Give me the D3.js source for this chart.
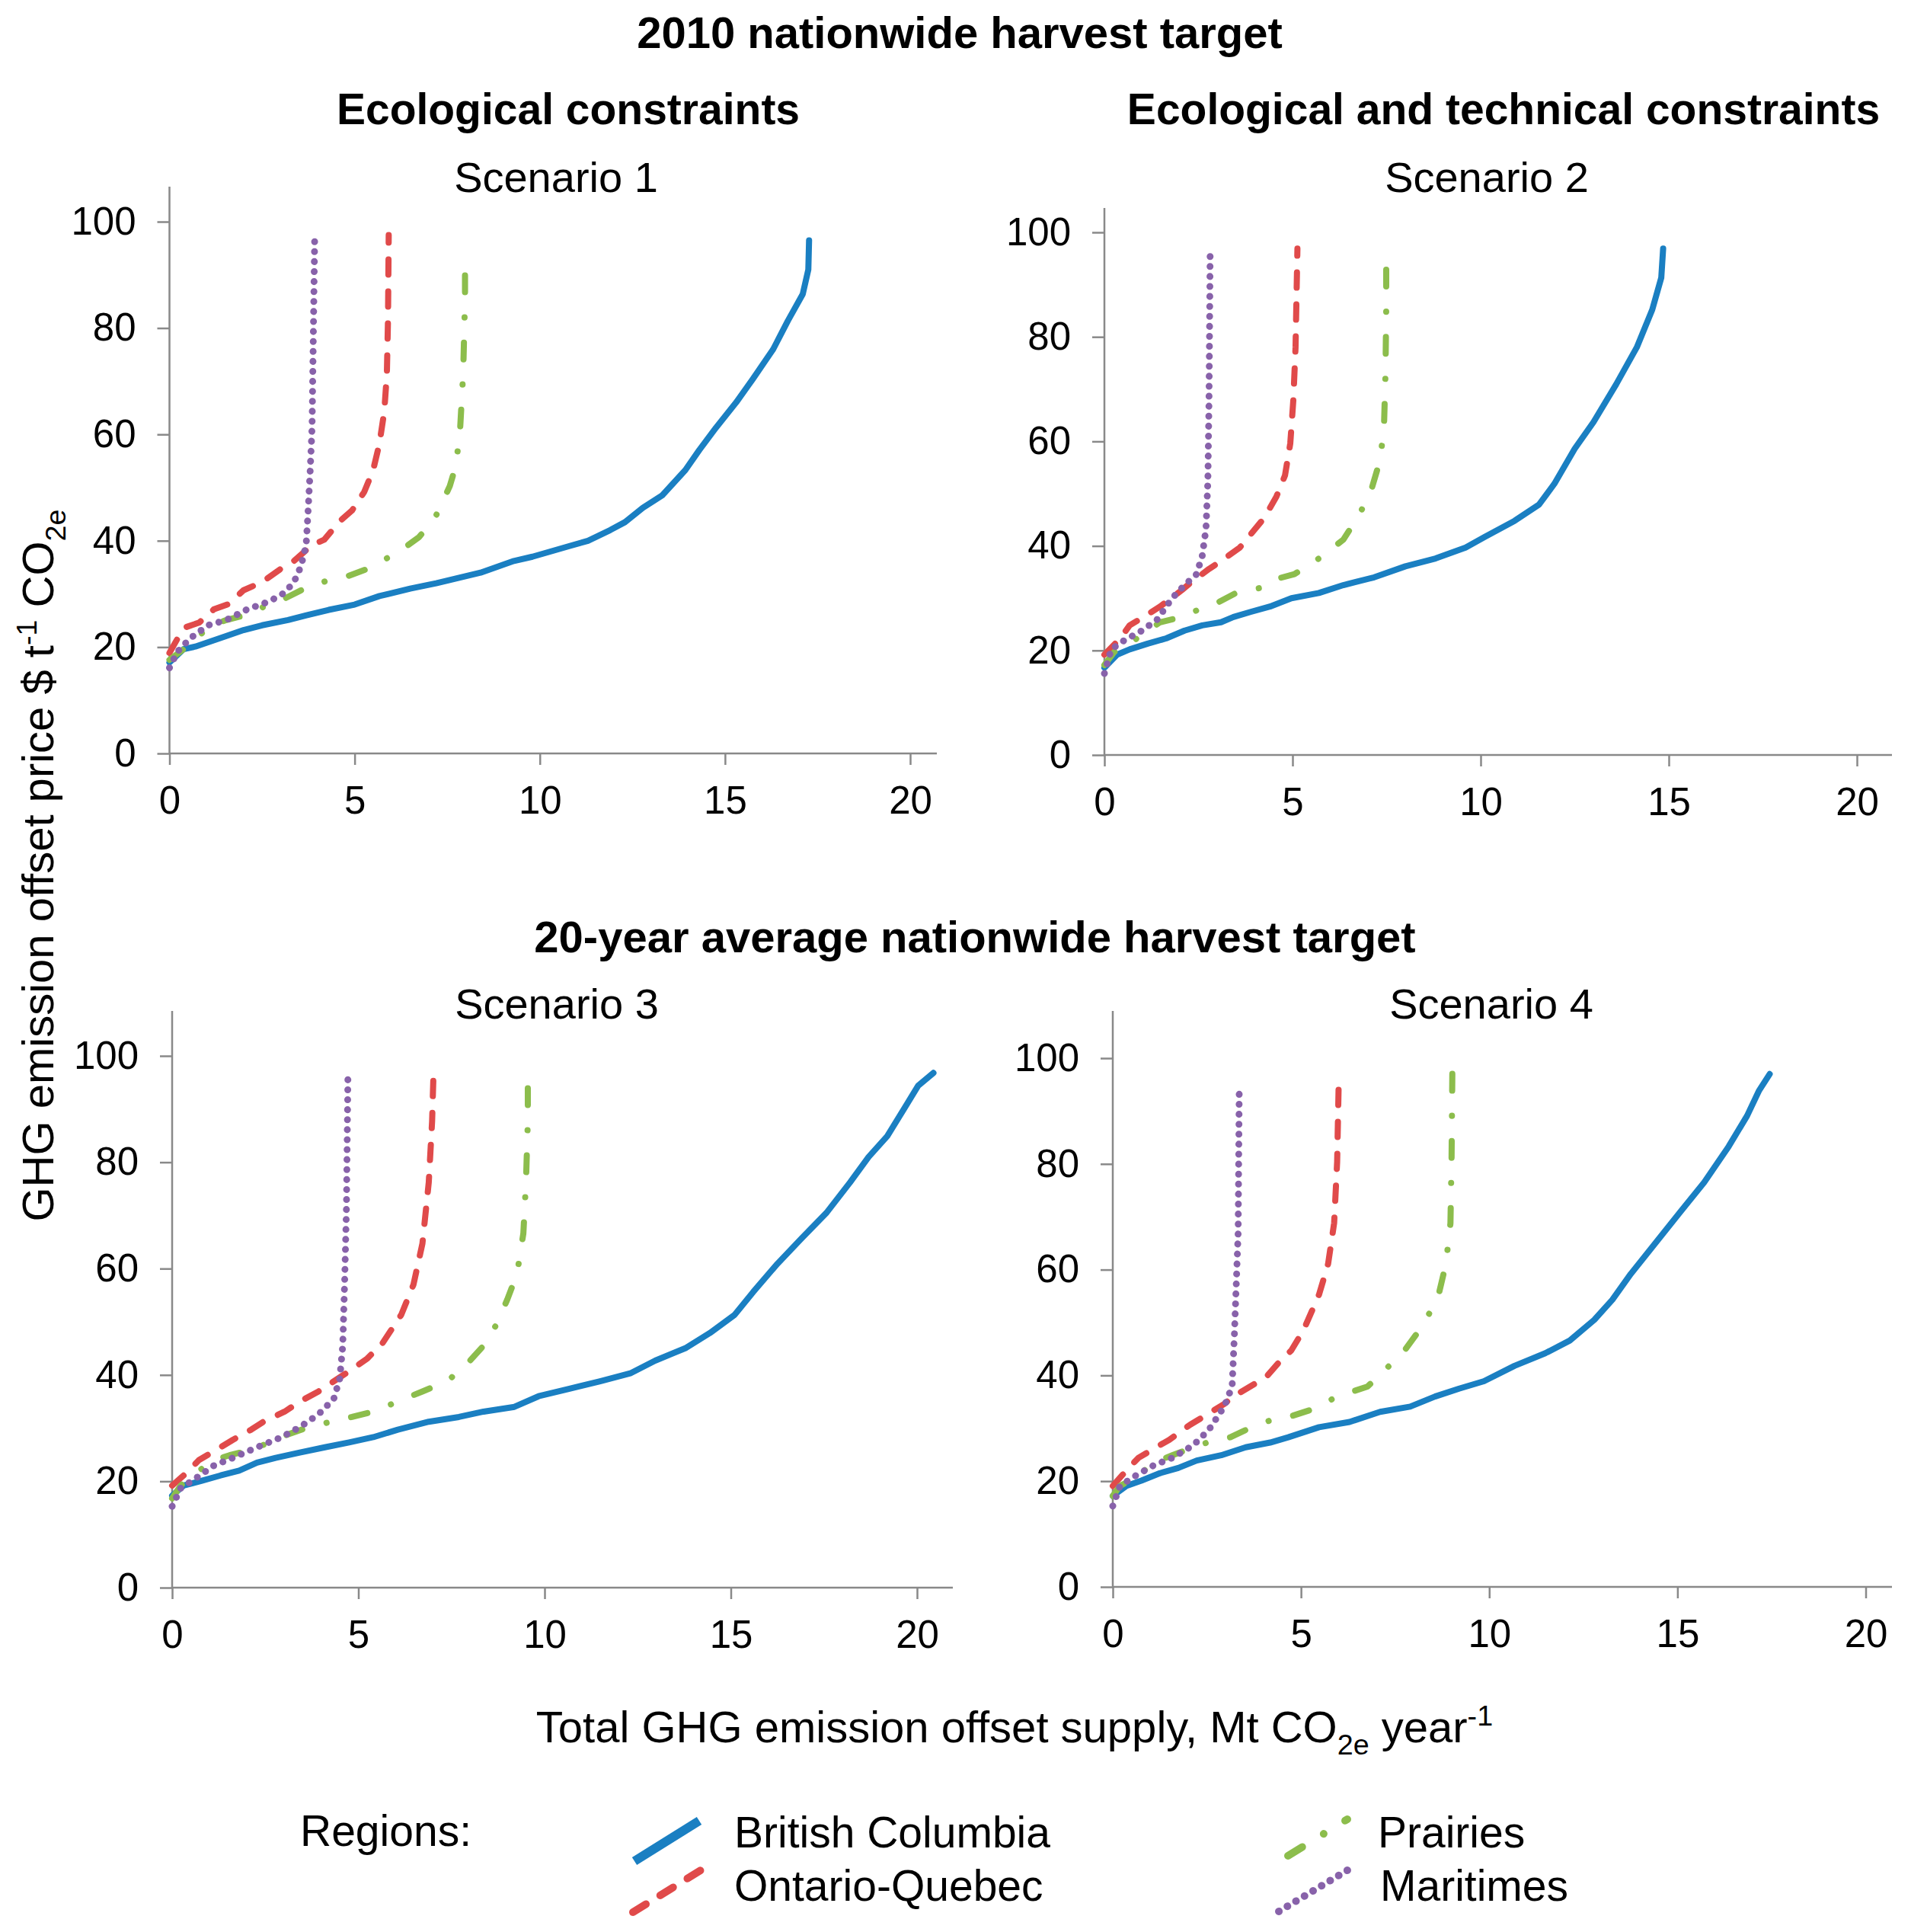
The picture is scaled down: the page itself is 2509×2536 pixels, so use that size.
<!DOCTYPE html>
<html>
<head>
<meta charset="utf-8">
<script src="https://cdn.jsdelivr.net/npm/d3@7"></script>
<style>
  body { margin: 0; background: #fff; }
  text { font-family: 'Liberation Sans', Arial, sans-serif; fill: #000; }
</style>
</head>
<body>
<div id="chart"></div>
<script>
// ---- data ----
const regions = ['British Columbia', 'Ontario-Quebec', 'Prairies', 'Maritimes'];
const scenarios = ['Scenario 1', 'Scenario 2', 'Scenario 3', 'Scenario 4'];
const xTicks = [0, 5, 10, 15, 20];
const yTicks = [0, 20, 40, 60, 80, 100];

// [supply Mt CO2e/yr, price $/t]
const s1BritishColumbia = [[0,17.1],[0.38,19.6],[0.7,20.1],[1.12,21.1],[1.54,22.1],[2.0,23.2],[2.5,24.1],[3.2,25.1],[3.7,26],[4.3,27],[5.0,28],[5.67,29.6],[6.5,31],[7.2,32],[7.8,33],[8.4,34],[9.3,36.2],[9.8,37],[10.3,38],[10.8,39],[11.3,40],[11.9,42],[12.3,43.5],[12.78,46.2],[13.3,48.5],[13.93,53.3],[14.3,57],[14.76,61.3],[15.3,66],[15.75,70.4],[16.3,76],[16.7,81.4],[17.1,86.4],[17.25,91],[17.27,96.5]];
const s1OntarioQuebec = [[0,18.9],[0.38,23.6],[0.8,24.6],[1.2,27.1],[1.6,28.1],[2.0,30.7],[2.5,32.2],[3.0,34.7],[3.36,36.2],[3.85,39.2],[4.18,40.2],[4.6,43.7],[4.93,45.7],[5.26,49.2],[5.5,53.3],[5.67,58.3],[5.8,64.3],[5.87,71.4],[5.9,81.4],[5.92,97.5]];
const s1Prairies = [[0,17.6],[0.38,19.6],[1.12,24.1],[1.54,25.1],[2.1,26.1],[2.7,28.1],[3.1,29.1],[3.7,31.2],[4.35,32.7],[4.76,33.2],[5.34,34.7],[6.0,37.2],[6.25,38.2],[6.74,40.7],[7.16,44.2],[7.3,46.2],[7.57,50.3],[7.74,54.3],[7.85,61.3],[7.93,71.4],[7.98,85.4],[7.98,94.5]];
const s1Maritimes = [[0,16.1],[0.21,19.1],[0.55,21.6],[1.04,24.1],[1.54,25.1],[2.1,27.1],[2.7,28.6],[3.1,30.2],[3.36,32.2],[3.55,35.2],[3.69,39.2],[3.74,45.2],[3.8,53.3],[3.85,61.3],[3.88,76.4],[3.92,96.5]];

const s2BritishColumbia = [[0,16.7],[0.34,19.2],[0.67,20.2],[1.15,21.3],[1.64,22.3],[2.13,23.8],[2.6,24.8],[3.1,25.4],[3.43,26.4],[3.9,27.4],[4.4,28.4],[4.97,30],[5.7,31],[6.35,32.5],[7.17,34],[8.0,36.1],[8.8,37.6],[9.6,39.7],[10.1,41.7],[10.9,44.8],[11.55,47.9],[11.96,51.9],[12.5,58.6],[13.0,63.7],[13.6,70.9],[14.15,78.0],[14.56,85.2],[14.8,91.3],[14.85,96.9]];
const s2OntarioQuebec = [[0,19.2],[0.42,22.3],[0.67,24.8],[1.15,26.9],[1.48,28.4],[2.05,31.5],[2.3,33.0],[2.78,35.6],[3.1,37.1],[3.6,39.7],[3.83,41.7],[4.24,45.3],[4.57,49.4],[4.8,53.5],[4.94,59.6],[5.02,67.8],[5.08,78.0],[5.13,96.9]];
const s2Prairies = [[0,17.2],[0.26,19.7],[0.67,21.3],[1.15,23.8],[1.48,25.4],[2.05,26.4],[2.53,27.9],[2.94,28.9],[3.5,31.0],[4.16,32.0],[4.48,33.5],[5.05,34.6],[5.7,37.6],[6.35,41.2],[6.76,45.8],[7.08,50.4],[7.33,56.5],[7.43,62.7],[7.47,72.9],[7.49,85.2],[7.49,94.4]];
const s2Maritimes = [[0,15.6],[0.18,20.2],[0.5,21.8],[1.0,23.8],[1.4,25.9],[1.8,30],[2.13,32.5],[2.45,34.6],[2.6,38.1],[2.7,43.3],[2.75,52.5],[2.78,67.8],[2.81,95.9]];

const s3BritishColumbia = [[0,17.3],[0.31,19.2],[0.8,20.1],[1.3,21.1],[1.8,22.0],[2.28,23.5],[2.78,24.4],[3.43,25.4],[4.1,26.4],[4.75,27.3],[5.4,28.3],[6.06,29.7],[6.89,31.2],[7.7,32.1],[8.36,33.1],[9.19,34.0],[9.84,36.0],[10.67,37.4],[11.49,38.8],[12.3,40.3],[12.97,42.7],[13.8,45.1],[14.44,47.9],[15.1,51.3],[15.6,55.6],[16.25,60.9],[16.9,65.7],[17.57,70.5],[18.2,76.2],[18.7,81.0],[19.2,84.9],[19.7,90.6],[20.03,94.4],[20.44,96.8]];
const s3OntarioQuebec = [[0,19.2],[0.39,21.6],[0.72,24.0],[1.3,26.4],[1.63,27.8],[2.12,29.7],[2.45,31.2],[3.02,33.1],[3.43,35.0],[3.93,36.9],[4.34,38.8],[4.75,40.7],[5.24,43.1],[5.65,46.0],[6.15,51.3],[6.48,57.0],[6.72,64.7],[6.89,76.2],[6.98,87.7],[7.02,97.3]];
const s3Prairies = [[0,16.8],[0.23,19.2],[0.64,21.6],[1.13,24.0],[1.54,24.9],[2.12,25.9],[2.61,27.3],[3.1,28.8],[3.68,30.2],[4.26,31.2],[4.83,32.1],[5.4,33.1],[6.06,35.0],[6.72,36.9],[7.38,38.8],[7.87,41.7],[8.36,45.5],[8.7,49.4],[9.0,54.2],[9.26,59.0],[9.43,66.6],[9.5,76.2],[9.55,87.7],[9.55,95.4]];
const s3Maritimes = [[0,15.3],[0.23,18.7],[0.64,20.6],[1.13,23.0],[1.63,24.4],[2.28,26.4],[2.94,28.3],[3.43,30.2],[3.93,32.6],[4.34,35.5],[4.5,39.3],[4.58,45.5],[4.63,57.0],[4.68,71.4],[4.72,96.4]];

const s4BritishColumbia = [[0,17.2],[0.36,19.1],[0.76,20.1],[1.25,21.5],[1.74,22.5],[2.23,23.9],[2.88,24.9],[3.53,26.4],[4.18,27.3],[4.66,28.3],[5.48,30.2],[6.29,31.2],[7.1,33.1],[7.9,34.1],[8.56,36.0],[9.2,37.5],[9.86,38.9],[10.67,41.8],[11.49,44.2],[12.14,46.6],[12.79,50.5],[13.27,54.3],[13.76,59.2],[14.41,65.0],[15.06,70.8],[15.71,76.5],[16.36,83.3],[16.85,89.1],[17.17,93.9],[17.45,97.0]];
const s4OntarioQuebec = [[0,19.1],[0.36,22.0],[0.68,24.4],[1.25,26.8],[1.5,27.8],[2.06,30.7],[2.39,32.1],[2.96,34.6],[3.2,36.0],[3.77,38.4],[4.1,39.9],[4.5,43.2],[4.74,44.7],[5.07,48.6],[5.48,55.3],[5.72,61.1],[5.88,68.8],[5.96,80.4],[6.0,94.9]];
const s4Prairies = [[0,17.2],[0.19,19.1],[0.6,20.6],[1.09,23.5],[1.58,24.9],[2.14,26.4],[2.71,27.8],[3.12,28.3],[3.69,30.2],[4.26,31.7],[4.66,32.1],[5.31,33.6],[5.96,36.0],[6.77,37.9],[7.34,41.8],[7.75,44.7],[8.24,49.5],[8.64,54.8],[8.85,61.1],[8.97,68.8],[9.0,81.4],[9.02,97.3]];
const s4Maritimes = [[0,15.3],[0.19,19.1],[0.6,21.0],[1.09,23.0],[1.58,24.4],[2.14,26.8],[2.55,29.7],[2.96,34.1],[3.17,37.9],[3.23,47.6],[3.33,66.9],[3.36,94.9]];

const panelSeries = [
  [s1BritishColumbia, s1OntarioQuebec, s1Prairies, s1Maritimes],
  [s2BritishColumbia, s2OntarioQuebec, s2Prairies, s2Maritimes],
  [s3BritishColumbia, s3OntarioQuebec, s3Prairies, s3Maritimes],
  [s4BritishColumbia, s4OntarioQuebec, s4Prairies, s4Maritimes]
];

// ---- layout / styles ----
const width = 2509, height = 2536;
const axisColor = '#898989';
const styles = [
  { color: '#1a7fc2', width: 8, dash: null },
  { color: '#e04a4a', width: 8, dash: '20,22' },
  { color: '#8cbd4c', width: 8, dash: '22,33,0.1,33' },
  { color: '#8862aa', width: 9, dash: '0.1,13' }
];
// pixel frame of each panel: x of 0 and 20, axis end, y of 0 and 100, axis top
const frames = [
  { x0: 222.5, x20: 1195, xEnd: 1230, y0: 989, y100: 291, yTop: 245, title: [730, 252] },
  { x0: 1450, x20: 2438, xEnd: 2484, y0: 991, y100: 305, yTop: 273, title: [1952, 252] },
  { x0: 226, x20: 1204, xEnd: 1251, y0: 2084, y100: 1386, yTop: 1327, title: [731, 1337] },
  { x0: 1461, x20: 2449.5, xEnd: 2484, y0: 2083, y100: 1389, yTop: 1327, title: [1958, 1337] }
];

const svg = d3.select('#chart')
  .append('svg')
  .attr('width', width)
  .attr('height', height);

svg.append('rect').attr('width', width).attr('height', height).attr('fill', '#fff');

// text with sub/superscripts: parts = [[str, 'sub'|'sup'|null], ...]
const richText = (g, parts, size) => {
  const small = size * 0.65;
  let shift = 0;
  parts.forEach(([str, kind]) => {
    const target = kind === 'sub' ? size * 0.28 : kind === 'sup' ? -size * 0.38 : 0;
    g.append('tspan')
      .attr('dy', target - shift)
      .attr('font-size', kind ? small : size)
      .text(str);
    shift = target;
  });
};

const line = d3.line();

frames.forEach((f, p) => {
  const x = d3.scaleLinear().domain([0, 20]).range([f.x0, f.x20]);
  const y = d3.scaleLinear().domain([0, 100]).range([f.y0, f.y100]);

  const xAxis = svg.append('g')
    .attr('transform', `translate(0, ${f.y0})`)
    .call(d3.axisBottom(x).tickValues(xTicks).tickSize(15).tickPadding(28).tickSizeOuter(0));
  xAxis.select('.domain').attr('d', `M${f.x0},0H${f.xEnd}`);

  const yAxis = svg.append('g')
    .attr('transform', `translate(${f.x0}, 0)`)
    .call(d3.axisLeft(y).tickValues(yTicks).tickSize(16).tickPadding(28).tickSizeOuter(0));
  yAxis.select('.domain').attr('d', `M0,${f.y0}V${f.yTop}`);

  [xAxis, yAxis].forEach(a => {
    a.selectAll('.domain, .tick line').attr('stroke', axisColor).attr('stroke-width', 2.5);
    a.selectAll('.tick text')
      .attr('fill', '#000')
      .attr('font-size', 51)
      .attr('font-family', "'Liberation Sans', Arial, sans-serif");
  });

  panelSeries[p].forEach((data, i) => {
    const s = styles[i];
    svg.append('path')
      .datum(data)
      .attr('fill', 'none')
      .attr('stroke', s.color)
      .attr('stroke-width', s.width)
      .attr('stroke-linecap', 'round')
      .attr('stroke-linejoin', 'round')
      .attr('stroke-dasharray', s.dash)
      .attr('d', line.x(d => x(d[0])).y(d => y(d[1])));
  });

  svg.append('text')
    .attr('x', f.title[0])
    .attr('y', f.title[1])
    .attr('text-anchor', 'middle')
    .attr('font-size', 56)
    .text(scenarios[p]);
});

// headings
const headings = [
  ['2010 nationwide harvest target', 1260, 63, 58],
  ['Ecological constraints', 746, 163, 57],
  ['Ecological and technical constraints', 1974, 163, 57],
  ['20-year average nationwide harvest target', 1280, 1250, 58]
];
headings.forEach(([t, hx, hy, size]) => {
  svg.append('text')
    .attr('x', hx)
    .attr('y', hy)
    .attr('text-anchor', 'middle')
    .attr('font-weight', 'bold')
    .attr('font-size', size)
    .text(t);
});

// axis titles
const yTitle = svg.append('text')
  .attr('transform', 'translate(70, 1136) rotate(-90)')
  .attr('text-anchor', 'middle');
richText(yTitle, [['GHG emission offset price $ t', null], ['-1', 'sup'], [' CO', null], ['2e', 'sub']], 58);

const xTitle = svg.append('text')
  .attr('x', 1332)
  .attr('y', 2287)
  .attr('text-anchor', 'middle');
richText(xTitle, [['Total GHG emission offset supply, Mt CO', null], ['2e', 'sub'], [' year', null], ['-1', 'sup']], 58);

// legend
svg.append('text')
  .attr('x', 394)
  .attr('y', 2423)
  .attr('font-size', 57)
  .text('Regions:');

const legendPos = [
  { seg: [[833, 2443], [918, 2390]], tx: 964, ty: 2425 },
  { seg: [[831, 2510], [920, 2455]], tx: 964, ty: 2495 },
  { seg: [[1691, 2436], [1769, 2388]], tx: 1809, ty: 2425 },
  { seg: [[1679, 2509], [1769, 2455]], tx: 1812, ty: 2495 }
];
regions.forEach((r, i) => {
  const s = styles[i], l = legendPos[i];
  svg.append('path')
    .attr('d', d3.line()(l.seg))
    .attr('fill', 'none')
    .attr('stroke', s.color)
    .attr('stroke-width', i === 0 ? 12 : 10)
    .attr('stroke-linecap', i === 0 ? 'butt' : 'round')
    .attr('stroke-dasharray', s.dash);
  svg.append('text')
    .attr('x', l.tx)
    .attr('y', l.ty)
    .attr('font-size', 57)
    .text(r);
});
</script>
</body>
</html>
